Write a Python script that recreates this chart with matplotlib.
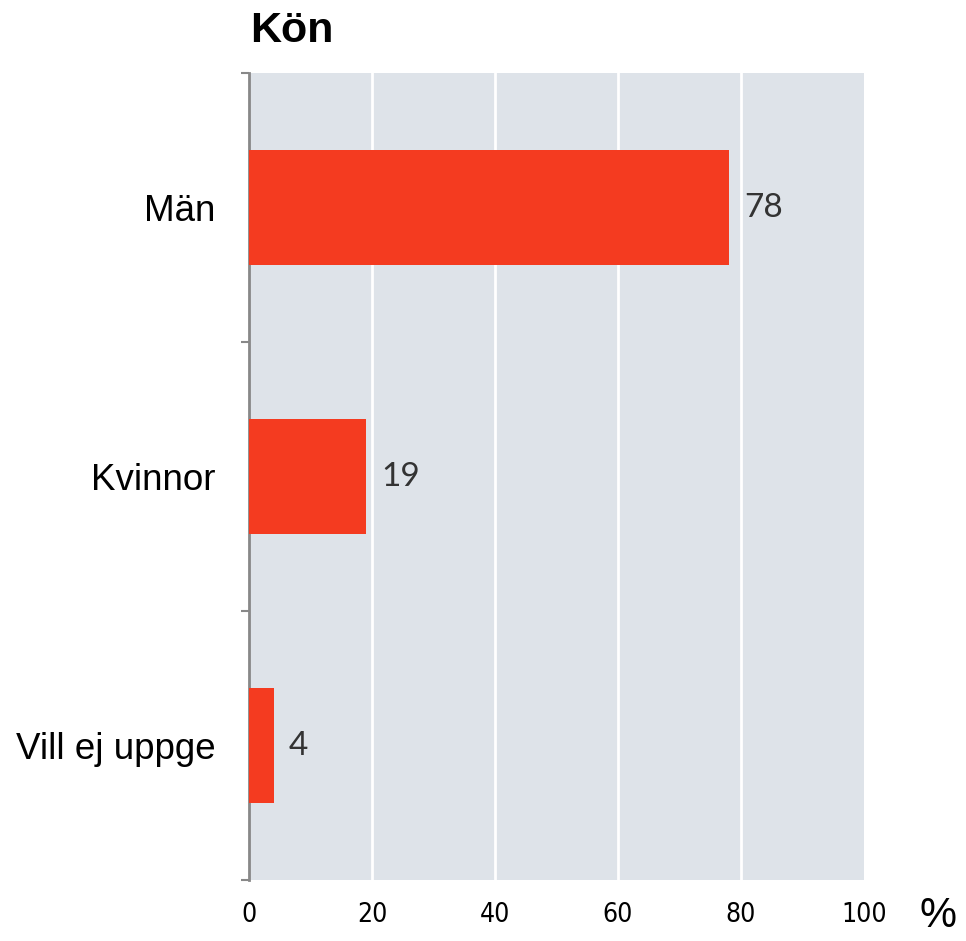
import numpy as np
import matplotlib.pyplot as plt

# === Data ===
categories = ["Män", "Kvinnor", "Vill ej uppge"]
values = [78, 19, 4]
xticks = [0, 20, 40, 60, 80, 100]

# === Plot ===
fig = plt.figure(figsize=(9.66, 9.41), dpi=100)
ax = fig.add_axes([0.2578, 0.0648, 0.6366, 0.8576])
ax.set_facecolor("#dee3e9")

pos = np.arange(len(categories))
bars = ax.barh(pos, values, height=0.43, color="#f43b20", zorder=3)

ax.set_xlim(0, 100)
ax.set_ylim(len(categories) - 0.5, -0.5)

# white vertical grid
for x in xticks[1:-1]:
    ax.axvline(x, color="white", linewidth=2, zorder=1)

# value labels
for b, v in zip(bars, values):
    ax.annotate(str(v), (b.get_width(), b.get_y() + b.get_height() / 2),
                xytext=(11, 0), textcoords="offset points", va="center", ha="left",
                fontsize=24, color="#333333", family="Lato")

# axes styling
for s in ["top", "right", "bottom"]:
    ax.spines[s].set_visible(False)
ax.spines["left"].set_color("#888888")
ax.spines["left"].set_linewidth(2)

ax.set_yticks(pos)
ax.set_yticklabels(categories, fontsize=26.5, family="Liberation Sans")
ax.tick_params(axis="y", which="major", length=0, pad=24)
ax.set_yticks(np.arange(len(categories) + 1) - 0.5, minor=True)
ax.tick_params(axis="y", which="minor", length=6, width=1.5, color="#888888")

ax.set_xticks(xticks)
ax.set_xticklabels([str(x) for x in xticks], fontsize=19,
                   family=["Liberation Sans Narrow", "DejaVu Sans"], stretch="condensed")
ax.tick_params(axis="x", length=0, pad=16)

fig.text(0.2588, 0.967, "Kön", fontsize=31, fontweight="bold", family="Liberation Sans",
         ha="left", va="center")
fig.text(0.99, 0.005, "%", fontsize=30, family="Liberation Sans", ha="right", va="bottom")

fig.savefig("out.png", dpi=100)
